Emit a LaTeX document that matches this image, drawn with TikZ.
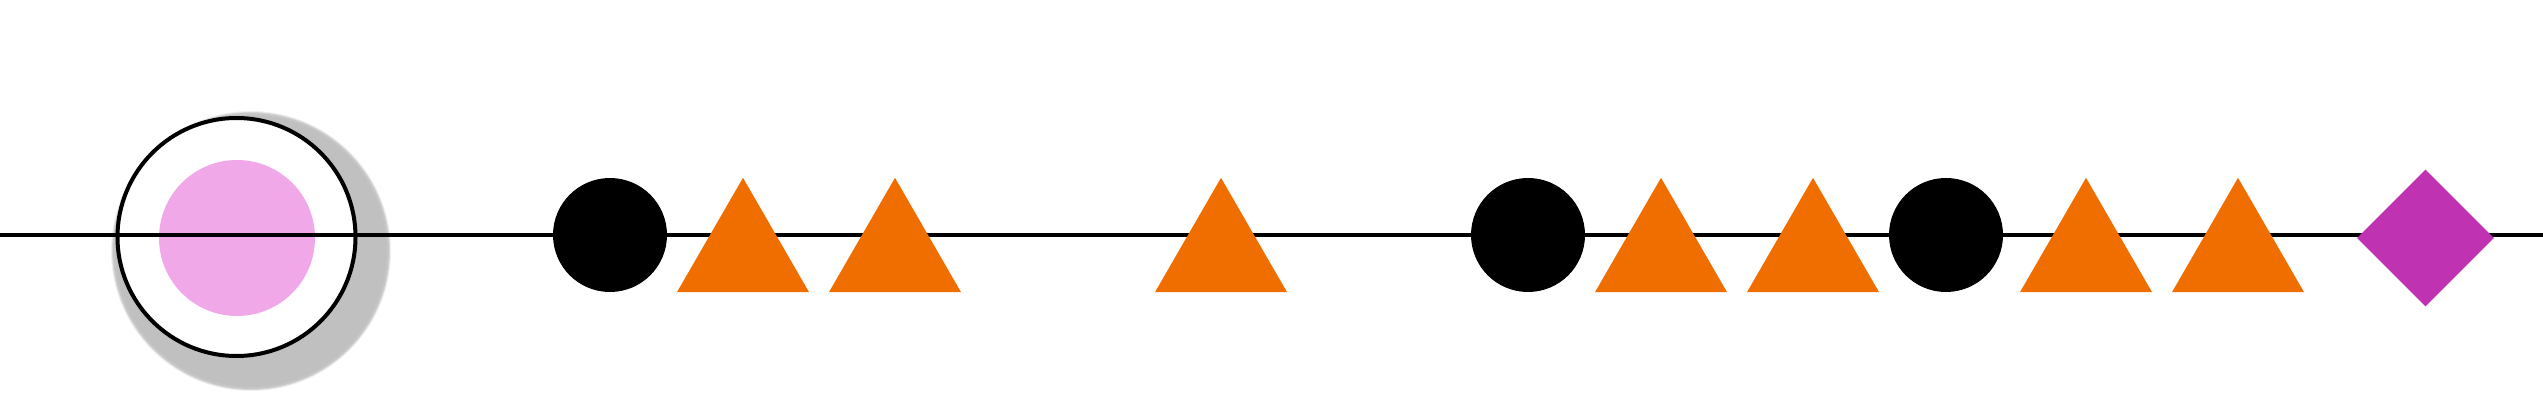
\documentclass[tikz,border=0pt]{standalone}
\usetikzlibrary{shapes.geometric}
\definecolor{orng}{HTML}{F06E00}
\definecolor{pinkc}{HTML}{F0A8E8}
\definecolor{purp}{HTML}{BF32B2}
\definecolor{shad}{HTML}{C0C0C0}
\begin{document}
\begin{tikzpicture}[x=1pt,y=-1pt,
  dot/.style={circle,fill=black,inner sep=0pt,minimum size=114pt},
  tri/.style={regular polygon,regular polygon sides=3,fill=orng,inner sep=0pt,minimum size=152.4pt},
  dia/.style={diamond,fill=purp,inner sep=0pt,minimum width=137pt,minimum height=137pt},
  ring/.style={circle,draw=black,line width=4pt,fill=white,inner sep=0pt,minimum size=238pt},
  core/.style={circle,fill=pinkc,inner sep=0pt,minimum size=156pt}]
\useasboundingbox (0,0) rectangle (2543,403);
% shadow with soft edge
\foreach \r/\o in {140/0.25,139/0.5,138/0.75,136/1}{
  \fill[shad,opacity=\o] (251,251) circle[radius=\r];
}
\node[ring] (big) at (236.5,237) {};
\node[core] (pk) at (237,238) {};
\coordinate (L) at (0,235);
\coordinate (R) at (2543,235);
\draw[line width=4pt] (L) -- (R);
\node[dot] (c1) at (610,235) {};
\node[dot] (c2) at (1528,235) {};
\node[dot] (c3) at (1946,235) {};
\node[tri] (t1) at (743,254) {};
\node[tri] (t2) at (895,254) {};
\node[tri] (t3) at (1221,254) {};
\node[tri] (t4) at (1661,254) {};
\node[tri] (t5) at (1813,254) {};
\node[tri] (t6) at (2086,254) {};
\node[tri] (t7) at (2238,254) {};
\node[dia] (d1) at (2425.5,238) {};
\end{tikzpicture}
\end{document}
